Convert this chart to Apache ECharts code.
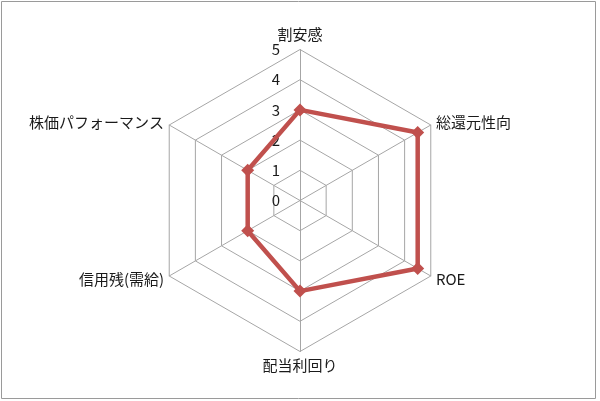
<!DOCTYPE html>
<html>
<head>
<meta charset="utf-8">
<script src="https://cdn.jsdelivr.net/npm/echarts@6/dist/echarts.min.js"></script>
<style>
  html, body { margin: 0; padding: 0; background: #fff; }
  #chart { width: 600px; height: 401px; }
</style>
</head>
<body>
<div id="chart"></div>
<script>
// indicators, counter-clockwise from the top (ECharts order)
var indicatorNames = ['割安感', '株価パフォーマンス', '信用残(需給)', '配当利回り', 'ROE', '総還元性向'];
var scores = [3, 2, 2, 3, 4.5, 4.5];
var scoreMax = 5;

var gridColor = '#a6a6a6';
var lineColor = '#c0504d';

var indicators = indicatorNames.map(function (name, i) {
    var ind = { name: name, min: 0, max: scoreMax };
    // only the top axis carries the 0..5 labels
    if (i === 0) {
        ind.axisLabel = { show: true };
    }
    return ind;
});

var chart = echarts.init(document.getElementById('chart'));
chart.setOption({
    animation: false,
    textStyle: { fontFamily: '"Noto Sans CJK JP", "Noto Sans", sans-serif' },
    graphic: [{
        type: 'rect',
        shape: { x: 1.5, y: 1.5, width: 594, height: 397 },
        style: { fill: null, stroke: '#9a9a9a', lineWidth: 1 },
        silent: true
    }],
    radar: {
        center: [300, 200.5],
        radius: 151,
        startAngle: 90,
        splitNumber: 5,
        shape: 'polygon',
        indicator: indicators,
        nameGap: 6,
        axisName: {
            color: '#1a1a1a',
            fontSize: 15,
            fontFamily: '"Noto Sans CJK JP", sans-serif'
        },
        axisLine: { lineStyle: { color: gridColor, width: 1 } },
        splitLine: { lineStyle: { color: gridColor, width: 1 } },
        splitArea: { show: false },
        axisTick: { show: false },
        axisLabel: {
            show: false,
            color: '#1a1a1a',
            fontSize: 15,
            margin: 20,
            fontFamily: '"Noto Sans CJK JP", sans-serif'
        }
    },
    series: [{
        type: 'radar',
        symbol: 'diamond',
        symbolSize: 13,
        lineStyle: { color: lineColor, width: 4.5 },
        itemStyle: { color: lineColor },
        data: [{ value: scores, name: 'スコア' }]
    }]
});
</script>
</body>
</html>
